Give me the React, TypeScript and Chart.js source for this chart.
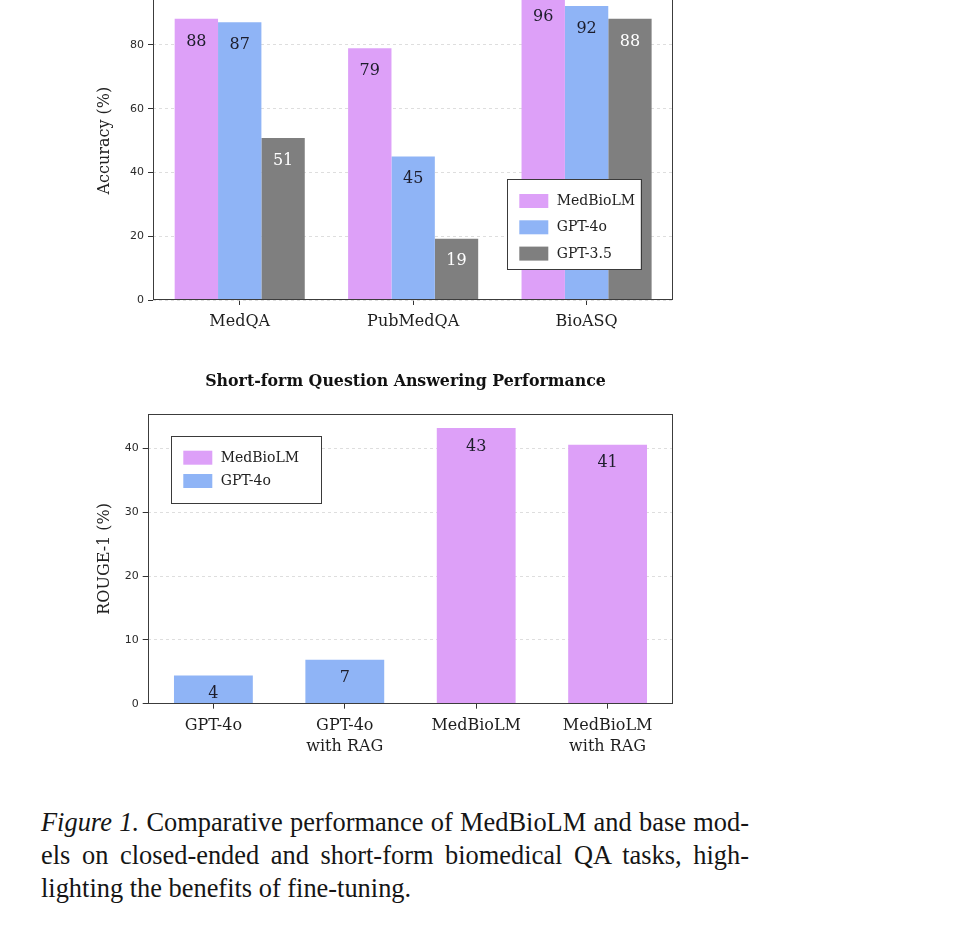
import React, { useEffect, useRef } from 'react';
import { Chart, registerables } from 'chart.js';

Chart.register(...registerables);

// ---------------- data ----------------
const closedCategories = ['MedQA', 'PubMedQA', 'BioASQ'];
const closedMedBioLM = [88.2, 79.0, 96.0];
const closedGPT4o = [87.1, 45.0, 92.2];
const closedGPT35 = [50.8, 19.2, 88.2];
const closedYMax = 100;
const closedYStep = 20;

const shortCategories = [['GPT-4o'], ['GPT-4o', 'with RAG'], ['MedBioLM'], ['MedBioLM', 'with RAG']];
const shortMedBioLM = [null, null, 43.2, 40.6];
const shortGPT4o = [4.4, 6.9, null, null];
const shortYMax = 45.4;
const shortYStep = 10;

const shortTitle = 'Short-form Question Answering Performance';
const closedYLabel = 'Accuracy (%)';
const shortYLabel = 'ROUGE-1 (%)';

// ---------------- styles ----------------
const PINK = '#DDA0F8';
const BLUE = '#8FB4F6';
const GRAY = '#7F7F7F';
const SERIF = '"DejaVu Serif", serif';
const SANS = '"DejaVu Sans", sans-serif';

const framePlugin = {
  id: 'axesFrame',
  afterDatasetsDraw(chart: any) {
    const { ctx, chartArea: a } = chart;
    ctx.save();
    ctx.strokeStyle = '#3c3c3c';
    ctx.lineWidth = 1;
    const l = Math.round(a.left) + 0.5;
    const t = Math.round(a.top) + 0.5;
    const r = Math.round(a.right) - 0.5;
    const b = Math.round(a.bottom) - 0.5;
    ctx.strokeRect(l, t, r - l, b - t);
    ctx.restore();
  },
};

const barLabelPlugin = {
  id: 'barValueLabels',
  afterDatasetsDraw(chart: any, _args: any, opts: any) {
    const { ctx } = chart;
    ctx.save();
    ctx.font = opts.font;
    ctx.textAlign = 'center';
    ctx.textBaseline = 'middle';
    chart.data.datasets.forEach((ds: any, di: number) => {
      const meta = chart.getDatasetMeta(di);
      meta.data.forEach((el: any, i: number) => {
        const v = ds.data[i];
        if (v == null) return;
        ctx.fillStyle = (opts.colors && opts.colors[di]) || '#222';
        ctx.fillText(String(Math.round(v)), el.x, el.y + opts.offset);
      });
    });
    ctx.restore();
  },
};

const boxLegendPlugin = {
  id: 'boxLegend',
  afterDraw(chart: any, _args: any, o: any) {
    const { ctx } = chart;
    ctx.save();
    ctx.fillStyle = '#ffffff';
    ctx.fillRect(o.x, o.y, o.w, o.h);
    ctx.strokeStyle = '#3a3a3a';
    ctx.lineWidth = 1;
    ctx.strokeRect(Math.round(o.x) + 0.5, Math.round(o.y) + 0.5, Math.round(o.w), Math.round(o.h));
    ctx.font = o.font;
    ctx.textAlign = 'left';
    ctx.textBaseline = 'middle';
    chart.data.datasets.forEach((ds: any, i: number) => {
      const sy = o.y + o.rowTop + i * o.rowGap;
      ctx.fillStyle = ds.backgroundColor;
      ctx.fillRect(o.x + o.swX, sy, o.swW, o.swH);
      ctx.fillStyle = '#222';
      ctx.fillText(ds.label, o.x + o.textX, sy + o.swH / 2 + 0.5);
    });
    ctx.restore();
  },
};

const chartTitlePlugin = {
  id: 'plotTitle',
  afterDraw(chart: any, _args: any, o: any) {
    if (!o.text) return;
    const { ctx, chartArea: a } = chart;
    ctx.save();
    ctx.font = o.font;
    ctx.fillStyle = '#111';
    ctx.textAlign = 'center';
    ctx.textBaseline = 'alphabetic';
    ctx.fillText(o.text, (a.left + a.right) / 2 + (o.dx || 0), o.y);
    ctx.restore();
  },
};

function makeScales(opts: {
  yMax: number;
  yStep: number;
  yTitle: string;
  yWidth: number;
  xHeight: number;
}) {
  return {
    x: {
      type: 'category',
      offset: true,
      grid: {
        display: true,
        drawOnChartArea: false,
        drawTicks: true,
        offset: false,
        tickLength: 5,
        tickColor: '#333',
        tickWidth: 1,
        tickBorderDash: [],
      },
      border: { display: false },
      ticks: {
        color: '#1e1e1e',
        font: { family: SERIF, size: 16, lineHeight: 1.35 },
        padding: 6,
        maxRotation: 0,
        autoSkip: false,
      },
      afterFit(scale: any) {
        scale.height = opts.xHeight;
      },
    },
    y: {
      type: 'linear',
      min: 0,
      max: opts.yMax,
      grid: {
        color: '#d6d6d6',
        lineWidth: 0.8,
        drawTicks: true,
        tickLength: 5,
        tickColor: '#333',
        tickWidth: 1,
        tickBorderDash: [],
      },
      border: { display: false, dash: [3, 3] },
      ticks: {
        stepSize: opts.yStep,
        includeBounds: false,
        color: '#2a2a2a',
        font: { family: SANS, size: 11 },
        padding: 4,
      },
      title: {
        display: true,
        text: opts.yTitle,
        color: '#222',
        font: { family: SERIF, size: 16 },
        padding: 0,
      },
      afterFit(scale: any) {
        scale.width = opts.yWidth;
      },
    },
  };
}

function ClosedChart() {
  const ref = useRef<HTMLCanvasElement>(null);
  useEffect(() => {
    const chart = new Chart(ref.current as HTMLCanvasElement, {
      type: 'bar',
      data: {
        labels: closedCategories,
        datasets: [
          { label: 'MedBioLM', data: closedMedBioLM, backgroundColor: PINK, borderWidth: 0, categoryPercentage: 0.75, barPercentage: 1 },
          { label: 'GPT-4o', data: closedGPT4o, backgroundColor: BLUE, borderWidth: 0, categoryPercentage: 0.75, barPercentage: 1 },
          { label: 'GPT-3.5', data: closedGPT35, backgroundColor: GRAY, borderWidth: 0, categoryPercentage: 0.75, barPercentage: 1 },
        ],
      },
      options: {
        responsive: false,
        animation: false,
        devicePixelRatio: 1,
        layout: { padding: { left: 95, right: 281.7, top: 21.25, bottom: 0 } },
        scales: makeScales({ yMax: closedYMax, yStep: closedYStep, yTitle: closedYLabel, yWidth: 58, xHeight: 60 }) as any,
        plugins: {
          legend: { display: false },
          tooltip: { enabled: false },
          barValueLabels: { font: `16px ${SERIF}`, offset: 22.5, colors: ['#1d1d2b', '#1d1d2b', '#ffffff'] },
          boxLegend: {
            x: 506.7, y: 179.3 + 40, w: 134, h: 90,
            swX: 12.6, swW: 29, swH: 14, rowTop: 14.7, rowGap: 26.3, textX: 50,
            font: `14px ${SERIF}`,
          },
          plotTitle: { text: '' },
        } as any,
      },
      plugins: [framePlugin, barLabelPlugin, boxLegendPlugin, chartTitlePlugin],
    } as any);
    return () => chart.destroy();
  }, []);
  return (
    <canvas
      ref={ref}
      width={955}
      height={400}
      style={{ position: 'absolute', left: 0, top: -40, width: 955, height: 400 }}
    />
  );
}

function ShortChart() {
  const ref = useRef<HTMLCanvasElement>(null);
  useEffect(() => {
    const chart = new Chart(ref.current as HTMLCanvasElement, {
      type: 'bar',
      data: {
        labels: shortCategories,
        datasets: [
          { label: 'MedBioLM', data: shortMedBioLM, backgroundColor: PINK, borderWidth: 0, categoryPercentage: 0.6, barPercentage: 1, skipNull: true },
          { label: 'GPT-4o', data: shortGPT4o, backgroundColor: BLUE, borderWidth: 0, categoryPercentage: 0.6, barPercentage: 1, skipNull: true },
        ],
      },
      options: {
        responsive: false,
        animation: false,
        devicePixelRatio: 1,
        layout: { padding: { left: 95, right: 281.7, top: 54, bottom: 0 } },
        scales: makeScales({ yMax: shortYMax, yStep: shortYStep, yTitle: shortYLabel, yWidth: 52.7, xHeight: 56.3 }) as any,
        plugins: {
          legend: { display: false },
          tooltip: { enabled: false },
          barValueLabels: { font: `16px ${SERIF}`, offset: 18.5, colors: ['#1d1d2b', '#1d1d2b'] },
          boxLegend: {
            x: 170.7, y: 435.7 - 360, w: 150, h: 67,
            swX: 12.6, swW: 29, swH: 14, rowTop: 15, rowGap: 23.3, textX: 50,
            font: `14px ${SERIF}`,
          },
          plotTitle: { text: shortTitle, font: `bold 15.8px ${SERIF}`, y: 26, dx: -5 },
        } as any,
      },
      plugins: [framePlugin, barLabelPlugin, boxLegendPlugin, chartTitlePlugin],
    } as any);
    return () => chart.destroy();
  }, []);
  return (
    <canvas
      ref={ref}
      width={955}
      height={400}
      style={{ position: 'absolute', left: 0, top: 360, width: 955, height: 400 }}
    />
  );
}

const lineStyle: React.CSSProperties = {
  width: 708,
  textAlign: 'justify',
  textAlignLast: 'justify' as any,
  height: 33,
  overflow: 'visible',
};

export default function App() {
  return (
    <div
      style={{
        position: 'absolute',
        left: 0,
        top: 0,
        width: 955,
        height: 948,
        overflow: 'hidden',
        background: '#ffffff',
      }}
    >
      <ClosedChart />
      <ShortChart />
      <div
        style={{
          position: 'absolute',
          left: 41,
          top: 806,
          fontFamily: '"Liberation Serif", "Times New Roman", serif',
          fontSize: 26.4,
          lineHeight: '33px',
          color: '#151515',
        }}
      >
        <div style={lineStyle}>
          <i>Figure 1.</i> Comparative performance of MedBioLM and base mod-
        </div>
        <div style={lineStyle}>els on closed-ended and short-form biomedical QA tasks, high-</div>
        <div style={{ height: 33 }}>lighting the benefits of fine-tuning.</div>
      </div>
    </div>
  );
}
